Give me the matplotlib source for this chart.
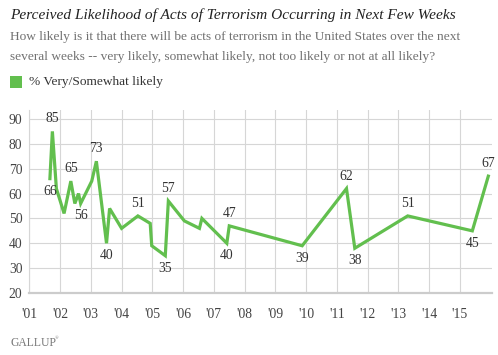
import matplotlib.pyplot as plt

# survey dates (decimal years) and % very/somewhat likely
years = [2001.67, 2001.75, 2001.88, 2002.13, 2002.35, 2002.48, 2002.60, 2002.67,
         2003.03, 2003.18, 2003.51, 2003.61, 2004.00, 2004.53, 2004.93, 2004.98,
         2005.42, 2005.52, 2006.04, 2006.53, 2006.61, 2007.42, 2007.50, 2009.87,
         2011.31, 2011.58, 2013.30, 2015.40, 2015.92]
values = [66, 85, 62, 52, 65, 56, 60, 56,
          65, 73, 40, 54, 46, 51, 48, 39,
          35, 57, 49, 46, 50, 40, 47, 39,
          62, 38, 51, 45, 67]
# which points get a value label, and where
label_pos = ['below', 'above', None, None, 'above', None, None, 'below',
             None, 'above', 'below', None, None, 'above', None, None,
             'below', 'above', None, None, None, 'below', 'above', 'below',
             'above', 'below', 'above', 'below', 'above']

tick_years = list(range(2001, 2016))
tick_labels = ["'%02d" % (y % 100) for y in tick_years]
y_ticks = [20, 30, 40, 50, 60, 70, 80, 90]

GREEN = '#62bf4e'
GRID = '#d6d6d6'
FONT = 'Liberation Serif'

plt.rcParams['font.family'] = FONT

fig = plt.figure(figsize=(4.98, 3.55), dpi=100)
ax = fig.add_axes([29.3 / 498, 62 / 355, 462.4 / 498, 183 / 355])

ax.plot(years, values, color=GREEN, lw=2.3, solid_joinstyle='miter', zorder=3)

for x, v, pos in zip(years, values, label_pos):
    if pos is None:
        continue
    dy = 9 if pos == 'above' else -9
    ax.annotate(str(v), (x, v), xytext=(0, dy), textcoords='offset points',
                ha='center', va='center', fontsize=9.8, color='#333333')

ax.set_xlim(2001, 2016.03)
ax.set_ylim(20, 93.6)
ax.set_xticks(tick_years)
ax.set_xticklabels(tick_labels)
ax.set_yticks(y_ticks)
ax.grid(True, color=GRID, lw=0.8)
ax.set_axisbelow(True)
ax.tick_params(axis='both', length=0, labelsize=9.8, labelcolor='#444444')
ax.tick_params(axis='x', pad=11)
ax.tick_params(axis='y', pad=5)
for s in ['top', 'right']:
    ax.spines[s].set_visible(False)
ax.spines['left'].set_color(GRID)
ax.spines['left'].set_linewidth(0.8)
ax.spines['bottom'].set_color('#cccccc')
ax.spines['bottom'].set_linewidth(1.6)

# header
fig.text(10 / 498, 1 - 15 / 355, 'Perceived Likelihood of Acts of Terrorism Occurring in Next Few Weeks',
         fontsize=11.1, style='italic', color='#222222', va='center')
fig.text(10 / 498, 1 - 37 / 355,
         'How likely is it that there will be acts of terrorism in the United States over the next',
         fontsize=9.6, color='#707070', va='center')
fig.text(10 / 498, 1 - 57 / 355,
         'several weeks -- very likely, somewhat likely, not too likely or not at all likely?',
         fontsize=9.6, color='#707070', va='center')

# legend
fig.patches.append(plt.Rectangle((10 / 498, 1 - 88 / 355), 12 / 498, 12 / 355,
                                 transform=fig.transFigure, color=GREEN, lw=0))
fig.text(29 / 498, 1 - 82 / 355, '% Very/Somewhat likely', fontsize=9.6,
         color='#333333', va='center')

# footer
fig.text(10 / 498, 1 - 343 / 355, 'GALLUP', fontsize=8.4, color='#777777', va='center')
fig.text(55 / 498, 1 - 338 / 355, '\u00ae', fontsize=3.5, color='#777777', va='center')

fig.savefig('out.png', dpi=100)
